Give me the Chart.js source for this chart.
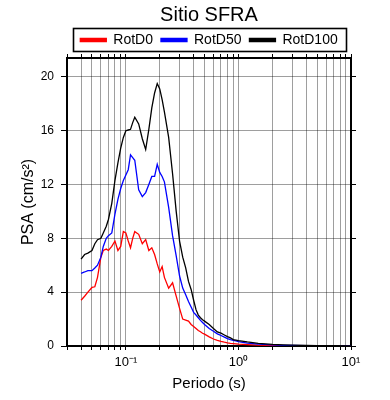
<!DOCTYPE html>
<html>
<head>
<meta charset="utf-8">
<script src="https://cdn.jsdelivr.net/npm/chart.js@4/dist/chart.umd.min.js"></script>
<style>
html,body{margin:0;padding:0;background:#fff;}
#c{display:block;}
</style>
</head>
<body>
<canvas id="c" width="390" height="400"></canvas>
<script>
// ---- data ----
const periods = [0.04,0.043,0.046,0.05,0.053,0.056,0.06,0.063,0.067,0.07,
  0.075,0.08,0.085,0.09,0.095,0.1,0.105,0.11,0.115,0.12,
  0.13,0.14,0.15,0.16,0.17,0.18,0.19,0.2,0.21,0.22,
  0.24,0.26,0.28,0.3,0.32,0.34,0.36,0.38,0.4,0.42,
  0.44,0.46,0.48,0.5,0.55,0.6,0.65,0.7,0.75,0.8,
  0.85,0.9,0.95,1.0,1.2,1.5,2.0,2.5,3.0,4.0,
  5.0,6.0,7.5,10.0];

const rotD0 = [3.4,3.7,4.0,4.35,4.4,5.1,6.6,7.1,7.2,7.1,
  7.4,7.8,7.1,7.4,8.5,8.4,7.8,7.3,8.0,8.5,
  8.3,7.6,7.9,7.1,7.3,6.8,6.1,5.5,5.9,5.1,
  4.3,4.7,3.7,2.8,2.0,1.93,1.85,1.6,1.45,1.3,
  1.15,1.06,0.95,0.88,0.68,0.52,0.42,0.34,0.28,0.23,
  0.2,0.18,0.16,0.14,0.1,0.06,0.04,0.03,0.02,0.015,
  0.01,0.01,0.008,0.005];

const rotD50 = [5.4,5.5,5.6,5.6,5.8,6.0,6.6,7.4,8.0,8.2,
  8.4,9.8,10.9,11.7,12.3,12.7,13.1,14.2,14.0,13.8,
  11.6,11.1,11.4,12.0,12.6,12.6,13.5,12.9,12.6,12.2,
  10.3,8.2,6.7,5.2,4.3,3.8,3.3,2.9,2.5,2.3,
  2.1,1.9,1.75,1.6,1.3,1.1,0.9,0.78,0.66,0.55,
  0.48,0.42,0.38,0.33,0.22,0.14,0.08,0.05,0.04,0.03,
  0.02,0.018,0.015,0.01];

const rotD100 = [6.45,6.8,6.9,7.1,7.6,7.9,8.0,8.4,8.9,9.4,
  10.6,12.3,13.6,14.7,15.5,16.0,16.05,16.1,16.6,17.0,
  16.5,15.4,14.6,16.1,17.7,18.8,19.5,19.1,18.3,17.4,
  15.5,12.8,10.0,7.8,6.6,5.8,4.8,4.2,3.4,2.7,
  2.3,2.1,1.95,1.85,1.6,1.3,1.05,0.95,0.82,0.7,
  0.6,0.48,0.44,0.4,0.3,0.2,0.12,0.08,0.06,0.04,
  0.03,0.025,0.02,0.015];

const seriesNames = ['RotD0','RotD50','RotD100'];
const seriesColors = ['#ff0000','#0000ff','#000000'];

// tick positions / labels
const xGridValues = [0.03,0.04,0.05,0.06,0.07,0.08,0.09,
  0.1,0.2,0.3,0.4,0.5,0.6,0.7,0.8,0.9,
  1,2,3,4,5,6,7,8,9,10];
const xMajorValues = [0.1, 1, 10];
const xMajorLabels = ['10\u207B\u00B9','10\u2070','10\u00B9'];
const yTickStep = 4;
const yMin = 0, yMax = 21.4;
const xMin = 0.03, xMax = 10;

const titleText = 'Sitio SFRA';
const xTitle = 'Periodo (s)';
const yTitle = 'PSA (cm/s\u00B2)';

// ---- chart ----
const FONT = "'Liberation Sans', Arial, Helvetica, sans-serif";
Chart.defaults.font.family = FONT;
Chart.defaults.color = '#000';

const toPts = (arr) => periods.map((p, i) => ({x: p, y: arr[i]}));
const allSeries = [rotD0, rotD50, rotD100];

const datasets = allSeries.map((arr, i) => ({
  label: seriesNames[i],
  data: toPts(arr),
  borderColor: seriesColors[i],
  backgroundColor: seriesColors[i],
  borderWidth: 1.3,
  pointRadius: 0,
  tension: 0,
  fill: false,
  order: 2 - i
}));

const GRID = 'rgba(0,0,0,0.38)';
const setXTicks = (s) => { s.ticks = xGridValues.map(v => ({value: v})); };

const legendBox = {
  id: 'legendBox',
  afterDraw(chart) {
    const lg = chart.legend;
    if (!lg || !lg.legendHitBoxes || !lg.legendHitBoxes.length) return;
    const hb = lg.legendHitBoxes;
    const l = Math.min(...hb.map(h => h.left)) - 7;
    const r = Math.max(...hb.map(h => h.left + h.width)) + 9;
    const t = hb[0].top - 5;
    const b = hb[0].top + hb[0].height + 4;
    const ctx = chart.ctx;
    ctx.save();
    ctx.strokeStyle = '#000';
    ctx.lineWidth = 1.6;
    ctx.strokeRect(Math.round(l) + 0.5, Math.round(t) + 0.5, Math.round(r - l), Math.round(b - t));
    ctx.restore();
  }
};

new Chart(document.getElementById('c'), {
  type: 'line',
  data: { datasets },
  plugins: [legendBox],
  options: {
    responsive: false,
    animation: false,
    devicePixelRatio: 1,
    layout: { padding: 0 },
    plugins: {
      title: {
        display: true,
        text: titleText,
        fullSize: false,
        font: { size: 20, weight: 'normal', family: FONT, lineHeight: 1.0 },
        color: '#000',
        padding: { top: 5, bottom: 0 }
      },
      legend: {
        display: true,
        fullSize: false,
        labels: {
          boxWidth: 26,
          boxHeight: 3,
          padding: 8,
          font: { size: 14, family: FONT },
          color: '#000',
          sort: (a, b) => a.datasetIndex - b.datasetIndex
        }
      },
      tooltip: { enabled: false }
    },
    scales: {
      x: {
        type: 'logarithmic',
        position: 'bottom',
        min: xMin, max: xMax,
        afterBuildTicks: setXTicks,
        afterFit: (s) => { s.height = 54; },
        grid: { color: GRID, lineWidth: 1, tickColor: '#000', tickLength: 4, drawTicks: true },
        border: { display: true, color: '#000', width: 2 },
        ticks: {
          autoSkip: false, maxRotation: 0, minRotation: 0, padding: 5,
          font: { size: 13 },
          callback: (v) => { const k = xMajorValues.indexOf(v); return k >= 0 ? xMajorLabels[k] : ''; }
        },
        title: { display: true, text: xTitle, font: { size: 15 }, padding: { top: 7, bottom: 7 } }
      },
      x2: {
        type: 'logarithmic',
        position: 'top',
        min: xMin, max: xMax,
        afterBuildTicks: setXTicks,
        afterFit: (s) => {
          const t = s.chart.titleBlock ? s.chart.titleBlock.height : 0;
          const l = s.chart.legend ? s.chart.legend.height : 0;
          s.height = Math.max(1, 58 - t - l);
        },
        grid: { drawOnChartArea: false, tickColor: '#000', tickLength: 4 },
        border: { display: true, color: '#000', width: 2 },
        ticks: { display: false, autoSkip: false }
      },
      y: {
        type: 'linear',
        position: 'left',
        min: yMin, max: yMax,
        afterFit: (s) => { s.width = 67; },
        grid: { color: GRID, lineWidth: 1, tickColor: '#000', tickLength: 6 },
        border: { display: true, color: '#000', width: 2 },
        ticks: { stepSize: yTickStep, includeBounds: false, padding: 7, font: { size: 12 } },
        title: { display: true, text: yTitle, font: { size: 16 }, padding: { top: 19, bottom: 19 } }
      },
      y2: {
        type: 'linear',
        position: 'right',
        min: yMin, max: yMax,
        afterFit: (s) => { s.width = 39; },
        grid: { drawOnChartArea: false, tickColor: '#000', tickLength: 5 },
        border: { display: true, color: '#000', width: 2 },
        ticks: { display: false, stepSize: yTickStep, includeBounds: false }
      }
    }
  }
});
</script>
</body>
</html>
